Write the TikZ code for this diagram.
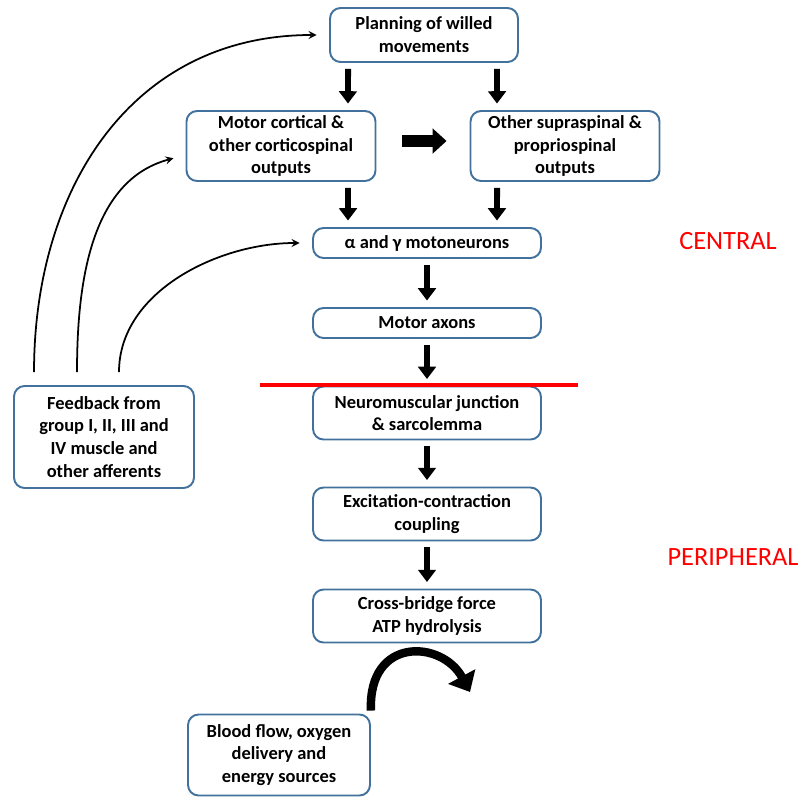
\documentclass[tikz,border=0pt]{standalone}
\usepackage{fontspec}
\setmainfont{Carlito}
\usetikzlibrary{arrows.meta}
\definecolor{boxblue}{RGB}{65,113,156}

\begin{document}
\begin{tikzpicture}[x=0.02cm, y=-0.02cm, >=stealth,
        box/.style={draw=boxblue, line width=1.1pt, rounded corners=6pt, align=center,
                inner sep=1pt, font=\bfseries\fontsize{10.5}{13}\selectfont},
        down/.style={-{Triangle[length=7pt, width=10pt]}, line width=3.4pt,
                shorten <=0.12cm, shorten >=0.13cm},
        fback/.style={->, line width=1pt, shorten <=0.26cm, shorten >=0.25cm},
        zone/.style={red, font=\fontsize{15}{18}\selectfont}]
    \useasboundingbox (0,0) rectangle (807,798);

    % Boxes
    \node[box, minimum width=3.76cm, minimum height=1.08cm] (plan) at (424,35) {Planning of willed\\movements};
    \node[box, minimum width=3.78cm, minimum height=1.4cm] (mc) at (281,146) {Motor cortical \&\\other corticospinal\\outputs};
    \node[box, minimum width=3.78cm, minimum height=1.4cm] (os) at (565,146) {Other supraspinal \&\\propriospinal\\outputs};
    \node[box, minimum width=4.56cm, minimum height=0.6cm] (mn) at (427,243) {α and γ motoneurons};
    \node[box, minimum width=4.56cm, minimum height=0.6cm] (ax) at (427,323) {Motor axons};
    \node[box, minimum width=4.56cm, minimum height=1.06cm] (nmj) at (427,413) {Neuromuscular junction\\\& sarcolemma};
    \node[box, minimum width=4.56cm, minimum height=1.06cm] (ecc) at (427,514) {Excitation-contraction\\coupling};
    \node[box, minimum width=4.56cm, minimum height=1.06cm] (xb) at (427,616) {Cross-bridge force\\ATP hydrolysis};
    \node[box, minimum width=3.6cm, minimum height=2.04cm] (fb) at (104,437) {Feedback from\\group I, II, III and\\IV muscle and\\other afferents};
    \node[box, minimum width=3.64cm, minimum height=1.62cm] (blood) at (279,755) {Blood flow, oxygen\\delivery and\\energy sources};

    % Labels
    \node[zone] (central) at (728,241) {CENTRAL};
    \node[zone] (periph) at (733,557) {PERIPHERAL};

    % Central / peripheral border
    \draw[red, line width=1.8pt] (260,385) -- (578,385);

    % Flow arrows
    \draw[down] ([xshift=-1.52cm]plan.south) -- ([xshift=1.34cm]mc.north);
    \draw[down] ([xshift=1.46cm]plan.south) -- ([xshift=-1.36cm]os.north);
    \draw[down] ([xshift=1.34cm]mc.south) -- ([xshift=-1.58cm]mn.north);
    \draw[down] ([xshift=-1.36cm]os.south) -- ([xshift=1.4cm]mn.north);
    \draw[-{Triangle[length=8pt, width=14pt]}, line width=6.5pt, shorten <=0.52cm, shorten >=0.46cm]
        ([yshift=0.1cm]mc.east) -- ([yshift=0.1cm]os.west);
    \draw[down] (mn) -- (ax);
    \draw[down] (ax) -- (nmj);
    \draw[down] (nmj) -- (ecc);
    \draw[down] (ecc) -- (xb);

    % Feedback loops
    \draw[fback] ([xshift=-1.4cm]fb.north) to[out=90, in=180, looseness=1.1] (plan.west);
    \draw[fback] ([xshift=-0.54cm]fb.north) to[out=90, in=195] ([yshift=-0.18cm]mc.west);
    \draw[fback] ([xshift=0.3cm]fb.north) to[out=90, in=180] (mn.west);

    % Supply
    \coordinate (supply) at (470,692);
    \draw[-{Triangle[length=10pt, width=17pt]}, line width=4.8pt]
        ([yshift=0.06cm]blood.north east) .. controls (368,636) and (442,640) .. (supply);
\end{tikzpicture}
\end{document}
